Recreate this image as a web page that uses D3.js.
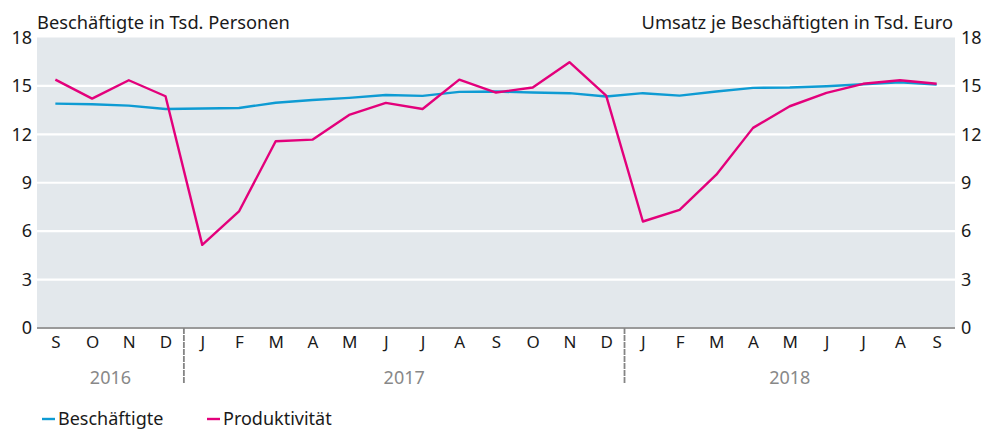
<!DOCTYPE html>
<html><head><meta charset="utf-8">
<script src="https://cdn.jsdelivr.net/npm/d3@7"></script>
<style>body{margin:0;background:#fff;} text{font-family:"Noto Sans", sans-serif;}</style>
</head><body>
<svg id="c" width="982" height="430"></svg>
<script>
const months = ["S","O","N","D","J","F","M","A","M","J","J","A","S","O","N","D","J","F","M","A","M","J","J","A","S"];
const years = [{label:"2016", from:0, to:3},{label:"2017", from:4, to:15},{label:"2018", from:16, to:24}];
const beschaeftigte = [13.9,13.86,13.78,13.57,13.6,13.63,13.96,14.13,14.26,14.44,14.38,14.63,14.65,14.59,14.55,14.34,14.55,14.4,14.65,14.88,14.9,14.98,15.1,15.23,15.08];
const produktivitaet = [15.39,14.21,15.35,14.36,5.15,7.22,11.57,11.67,13.2,13.95,13.57,15.39,14.59,14.9,16.47,14.4,6.6,7.32,9.5,12.4,13.74,14.57,15.13,15.35,15.13];
const yTicks = [0,3,6,9,12,15,18];
const titleLeft = "Beschäftigte in Tsd. Personen";
const titleRight = "Umsatz je Beschäftigten in Tsd. Euro";
const legend = [{name:"Beschäftigte", color:"#0e9bd3"},{name:"Produktivität", color:"#e3007b"}];

const FONT = "'Noto Sans', sans-serif";
const svg = d3.select("#c");
const L = 37, R = 955, T = 37.5, B = 328;
const idx = months.map((m,i)=>i);
const x = d3.scalePoint().domain(idx).range([L,R]).padding(0.5);
const step = x.step();
const y = d3.scaleLinear().domain([0,18]).range([B,T]);

svg.append("rect").attr("x",L).attr("y",T).attr("width",R-L).attr("height",B-T).attr("fill","#e3e8ec");
svg.append("g").selectAll("line").data(yTicks.filter(d=>d>0 && d<18)).join("line")
  .attr("x1",L).attr("x2",R).attr("y1",d=>y(d)).attr("y2",d=>y(d))
  .attr("stroke","#fff").attr("stroke-width",2.2);

const yl = d3.axisLeft(y).tickValues(yTicks).tickSize(0).tickPadding(5);
const gl = svg.append("g").attr("transform",`translate(${L},0)`).call(yl);
const yr = d3.axisRight(y).tickValues(yTicks).tickSize(0).tickPadding(6);
const gr = svg.append("g").attr("transform",`translate(${R},0)`).call(yr);
[gl,gr].forEach(g=>{g.select(".domain").remove(); g.selectAll("text").attr("font-size",18).attr("fill","#1a1a1a").style("font-family",FONT);});

svg.append("line").attr("x1",L).attr("x2",R).attr("y1",B).attr("y2",B).attr("stroke","#9a9a9a").attr("stroke-width",2);
const xa = d3.axisBottom(x).tickSize(0).tickPadding(8).tickFormat(i=>months[i]);
const gx = svg.append("g").attr("transform",`translate(0,${B})`).call(xa);
gx.select(".domain").remove();
gx.selectAll("text").attr("font-size",17).attr("fill","#1a1a1a").style("font-family",FONT);

years.slice(1).forEach(yr0=>{
  const xs = x(yr0.from) - step/2;
  svg.append("line").attr("x1",xs).attr("x2",xs).attr("y1",B).attr("y2",383)
    .attr("stroke","#858585").attr("stroke-width",1.8).attr("stroke-dasharray","6,1");
});
svg.append("g").selectAll("text").data(years).join("text")
  .attr("x",d=>(x(d.from)+x(d.to))/2).attr("y",384).attr("text-anchor","middle")
  .attr("font-size",18).attr("fill","#888").text(d=>d.label);

const line = d3.line().x((d,i)=>x(i)).y(d=>y(d));
svg.append("path").datum(beschaeftigte).attr("d",line).attr("fill","none").attr("stroke",legend[0].color).attr("stroke-width",2.4).attr("stroke-linejoin","round");
svg.append("path").datum(produktivitaet).attr("d",line).attr("fill","none").attr("stroke",legend[1].color).attr("stroke-width",2.4).attr("stroke-linejoin","round");

svg.append("text").attr("x",L).attr("y",29).attr("font-size",18.3).attr("fill","#1a1a1a").text(titleLeft);
svg.append("text").attr("x",953).attr("y",29).attr("text-anchor","end").attr("font-size",18.3).attr("fill","#1a1a1a").text(titleRight);

const lx = [42,207];
legend.forEach((d,i)=>{
  svg.append("line").attr("x1",lx[i]).attr("x2",lx[i]+13).attr("y1",419).attr("y2",419).attr("stroke",d.color).attr("stroke-width",2.4);
  svg.append("text").attr("x",lx[i]+16).attr("y",425).attr("font-size",18).attr("fill","#1a1a1a").text(d.name);
});
</script>
</body></html>
